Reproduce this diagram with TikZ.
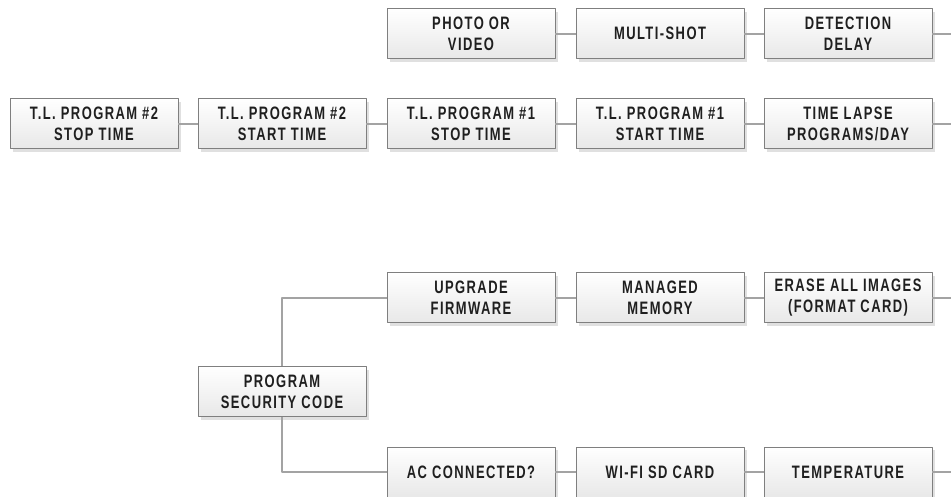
\documentclass[tikz,border=0pt]{standalone}
\usepackage{fontspec}
\newfontfamily\boxfont[FakeStretch=0.72,LetterSpace=8]{Liberation Sans Bold}
\usetikzlibrary{shadows}
\definecolor{boxline}{HTML}{7F7F7F}
\definecolor{wireline}{HTML}{A3A3A3}
\definecolor{boxtext}{HTML}{1F1F1F}
\tikzset{
	menubox/.style={draw=boxline, line width=0.9pt, top color=white, bottom color=black!9,
		minimum width=168pt, minimum height=50pt, inner sep=0pt, align=center,
		text=boxtext, font=\boxfont\fontsize{18}{21}\selectfont,
		drop shadow={shadow xshift=3pt, shadow yshift=-3pt, fill=black!12, opacity=1}},
	wire/.style={draw=wireline, line width=2pt}
}
\begin{document}
\begin{tikzpicture}[x=1pt, y=-1pt, line join=round]
			\useasboundingbox (0,0) rectangle (951,496);
			%%%%%%%%%%%%%%%%%%%%%%%%%%%%%%%%%
			\node[menubox] (photo) at (471,33.5) {PHOTO OR\\VIDEO};
			\node[menubox] (multi) at (660,33.5) {MULTI-SHOT};
			\node[menubox] (delay) at (848,33.5) {DETECTION\\DELAY};
			\coordinate (delayend) at (951,33.5);
			%%%%%%%%%%%%%%%%%%%%%%%%%%%%%%%%%
			\node[menubox] (tltwostop) at (94,123.5) {T.L. PROGRAM \#2\\STOP TIME};
			\node[menubox] (tltwostart) at (282,123.5) {T.L. PROGRAM \#2\\START TIME};
			\node[menubox] (tlonestop) at (471,123.5) {T.L. PROGRAM \#1\\STOP TIME};
			\node[menubox] (tlonestart) at (660,123.5) {T.L. PROGRAM \#1\\START TIME};
			\node[menubox] (lapse) at (848,123.5) {TIME LAPSE\\PROGRAMS/DAY};
			\coordinate (lapseend) at (951,123.5);
			%%%%%%%%%%%%%%%%%%%%%%%%%%%%%%%%%
			\node[menubox] (firmware) at (471,297.5) {UPGRADE\\FIRMWARE};
			\node[menubox] (memory) at (660,297.5) {MANAGED\\MEMORY};
			\node[menubox] (erase) at (848,297.5) {ERASE ALL IMAGES\\(FORMAT CARD)};
			\coordinate (eraseend) at (951,297.5);
			\node[menubox] (security) at (282,391.5) {PROGRAM\\SECURITY CODE};
			\node[menubox] (ac) at (471,472) {AC CONNECTED?};
			\node[menubox] (wifi) at (660,472) {WI-FI SD CARD};
			\node[menubox] (temp) at (848,472) {TEMPERATURE};
			\coordinate (tempend) at (951,472);
			%%%%%%%%%%%%%%%%%%%%%%%%%%%%%%%%%
			\draw[wire] (photo) -- (multi);
			\draw[wire] (multi) -- (delay);
			\draw[wire] (delay) -- (delayend);
			\draw[wire] (tltwostop) -- (tltwostart);
			\draw[wire] (tltwostart) -- (tlonestop);
			\draw[wire] (tlonestop) -- (tlonestart);
			\draw[wire] (tlonestart) -- (lapse);
			\draw[wire] (lapse) -- (lapseend);
			\draw[wire] (security.north) |- (firmware.west);
			\draw[wire] (security.south) |- (ac.west);
			\draw[wire] (firmware) -- (memory);
			\draw[wire] (memory) -- (erase);
			\draw[wire] (erase) -- (eraseend);
			\draw[wire] (ac) -- (wifi);
			\draw[wire] (wifi) -- (temp);
			\draw[wire] (temp) -- (tempend);
			%%%%%%%%%%%%%%%%%%%%%%%%%%%%%%%%%
		\end{tikzpicture}
\end{document}
